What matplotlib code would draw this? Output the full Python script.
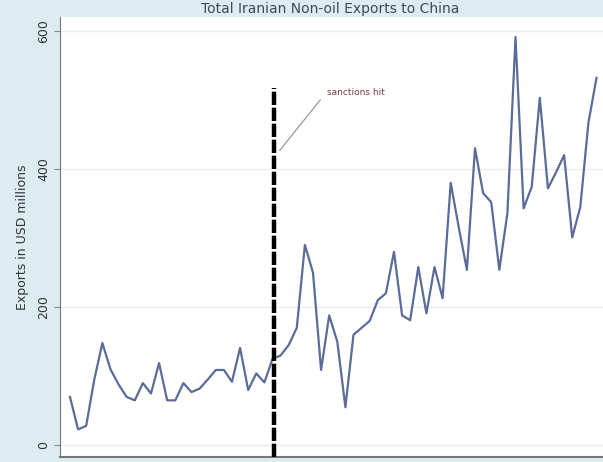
import numpy as np
import matplotlib
matplotlib.use("Agg")
import matplotlib.pyplot as plt

# monthly exports, USD millions
exports = [70, 23, 28, 95, 148, 110, 88, 70, 65, 90,
           75, 119, 65, 65, 90, 77, 82, 95, 109, 109,
           92, 141, 80, 104, 91, 125, 130, 145, 170, 290,
           250, 109, 188, 150, 55, 160, 170, 180, 210, 220,
           280, 188, 181, 258, 191, 258, 213, 380, 315, 254,
           430, 365, 352, 254, 336, 591, 343, 374, 503, 372,
           395, 420, 301, 345, 467, 532]
months = np.arange(len(exports))
sanction_month = 25.2
yticks = [0, 200, 400, 600]

bg = "#dcecf1"
fig = plt.figure(figsize=(6.03, 4.62), dpi=100, facecolor=bg)
ax = fig.add_axes([60 / 603, 1 - 457 / 462, 1 - 60 / 603, (457 - 17) / 462])
ax.set_facecolor("white")

ax.plot(months, exports, color="#5b6c98", lw=1.6, zorder=3)

# sanctions line
ax.plot([sanction_month, sanction_month], [-17, 517], color="black", lw=3.2,
        dashes=(3, 0.6), zorder=4)
ax.plot([sanction_month + 0.7, sanction_month + 5.7], [427, 500], color="#999999", lw=0.9)
ax.text(sanction_month + 6.5, 510, "sanctions hit", fontsize=6.5, color="#7a3a3a",
        va="center", ha="left")

ax.set_xlim(-1.23, 65.8)
ax.set_ylim(-17, 620)
ax.set_yticks(yticks)
ax.set_yticklabels([str(t) for t in yticks], rotation=90, va="center", fontsize=9,
                   color="#333333")
ax.set_xticks([])
ax.tick_params(axis="y", length=4, color="#888888", pad=3)
ax.grid(axis="y", color="#e8eef0", lw=1)
ax.set_axisbelow(True)
for side in ["top", "right"]:
    ax.spines[side].set_visible(False)
ax.spines["left"].set_color("#777777")
ax.spines["bottom"].set_color("#777777")
ax.spines["bottom"].set_linewidth(1.5)

ax.set_ylabel("Exports in USD millions", fontsize=9, color="#333333", labelpad=6)

fig.text(330 / 603, 1 - 2 / 462, "Total Iranian Non-oil Exports to China",
         ha="center", va="top", fontsize=10, color="#3c4a5a")

fig.savefig("out.png", dpi=100, facecolor=bg)
